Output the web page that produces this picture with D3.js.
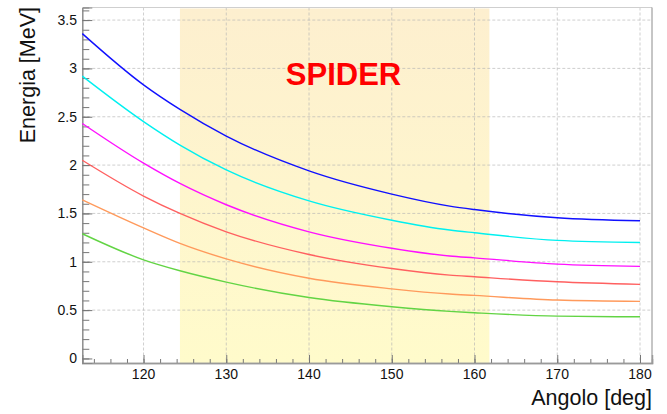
<!DOCTYPE html>
<html><head><meta charset="utf-8">
<script src="https://cdn.jsdelivr.net/npm/d3@7"></script>
<style>
html,body{margin:0;padding:0;background:#fff;}
svg{display:block;font-family:"Liberation Sans",Arial,Helvetica,sans-serif;}
</style></head>
<body>
<svg id="chart" width="667" height="414"></svg>
<script>
// ---- data ----
const angles  = [112.6, 120, 124.4, 130, 140, 150, 157, 160, 170, 180];
const serBlue    = [3.36, 2.83, 2.576, 2.30, 1.94, 1.70, 1.576, 1.54, 1.455, 1.424];
const serCyan    = [2.92, 2.45, 2.207, 1.95, 1.63, 1.43, 1.328, 1.30, 1.221, 1.20];
const serMagenta = [2.43, 2.02, 1.81, 1.59, 1.31, 1.14, 1.059, 1.04, 0.976, 0.952];
const serRed     = [2.05, 1.68, 1.50, 1.31, 1.075, 0.93, 0.862, 0.845, 0.793, 0.766];
const serOrange  = [1.64, 1.35, 1.19, 1.03, 0.83, 0.72, 0.666, 0.652, 0.604, 0.59];
const serGreen   = [1.29, 1.02, 0.907, 0.79, 0.63, 0.535, 0.487, 0.473, 0.438, 0.431];
const seriesColors = ["#1010ff", "#00f0f0", "#ff10ff", "#ff6060", "#ff9a5c", "#62d444"];
const xTicks = [120, 130, 140, 150, 160, 170, 180];
const yTicks = [0, 0.5, 1, 1.5, 2, 2.5, 3, 3.5];
const xDomain = [112.6, 181.45];
const yDomain = [-0.047, 3.63];
const bandRange = [124.4, 161.8];
const bandLabel = "SPIDER";
const xTitle = "Angolo [deg]";
const yTitle = "Energia [MeV]";

const series = [serBlue, serCyan, serMagenta, serRed, serOrange, serGreen];

// ---- layout ----
const L = 82.3, R = 652, T = 7.5, B = 363;
const svg = d3.select("#chart");
const x = d3.scaleLinear().domain(xDomain).range([L, R]);
const y = d3.scaleLinear().domain(yDomain).range([B, T]);

const defs = svg.append("defs");
const grad = defs.append("linearGradient").attr("id","bandGrad").attr("x1",0).attr("y1",0).attr("x2",0).attr("y2",1);
grad.append("stop").attr("offset","0%").attr("stop-color","#fdefcf");
grad.append("stop").attr("offset","100%").attr("stop-color","#fffbcb");

// shaded band
svg.append("rect")
  .attr("x", x(bandRange[0])).attr("width", x(bandRange[1]) - x(bandRange[0]))
  .attr("y", y(3.62)).attr("height", y(yDomain[0]) - y(3.62))
  .attr("fill", "url(#bandGrad)");

// grid
const grid = svg.append("g").attr("stroke", "#b4b4b4").attr("stroke-width", 0.8)
  .attr("stroke-dasharray", "3,2").attr("stroke-opacity", 0.8);
xTicks.forEach(t => grid.append("line").attr("x1", x(t)).attr("x2", x(t)).attr("y1", T).attr("y2", B));
yTicks.filter(t => t > 0).forEach(t => grid.append("line").attr("x1", L).attr("x2", R).attr("y1", y(t)).attr("y2", y(t)));

// frame
svg.append("line").attr("x1", L).attr("x2", R).attr("y1", T).attr("y2", T).attr("stroke", "#cfcfcf");
svg.append("line").attr("x1", R).attr("x2", R).attr("y1", T).attr("y2", B).attr("stroke", "#8c8c8c");

// x axis
const xAxis = d3.axisTop(x).tickValues(d3.range(114, 181, 2)).tickSize(4).tickFormat("");
const gx = svg.append("g").attr("transform", `translate(0,${B})`).call(xAxis);
const xAxisMajor = d3.axisTop(x).tickValues(xTicks).tickSize(8).tickFormat("");
const gx2 = svg.append("g").attr("transform", `translate(0,${B})`).call(xAxisMajor);
[gx, gx2].forEach(g => { g.selectAll("line").attr("stroke", "#777"); g.select(".domain").attr("stroke", "#9a9a9a").attr("stroke-width", 1.5); });
svg.append("g").selectAll("text").data(xTicks).join("text")
  .attr("x", d => x(d)).attr("y", 379).attr("text-anchor", "middle")
  .attr("font-size", 14).attr("fill", "#111").text(d => d);

// y axis
const yAxisMinor = d3.axisRight(y).tickValues(d3.range(0, 3.65, 0.1)).tickSize(7).tickFormat("");
const gy = svg.append("g").attr("transform", `translate(${L},0)`).call(yAxisMinor);
const yAxisMajor = d3.axisRight(y).tickValues(yTicks).tickSize(10).tickFormat("");
const gy2 = svg.append("g").attr("transform", `translate(${L},0)`).call(yAxisMajor);
[gy, gy2].forEach(g => { g.selectAll("line").attr("stroke", "#777"); g.select(".domain").attr("stroke", "#888"); });
svg.append("g").selectAll("text").data(yTicks).join("text")
  .attr("x", 77).attr("y", d => y(d) + 5).attr("text-anchor", "end")
  .attr("font-size", 14).attr("fill", "#111").text(d => d);

// curves
const line = d3.line().x((d, i) => x(angles[i])).y(d => y(d)).curve(d3.curveMonotoneX);
svg.append("g").selectAll("path").data(series).join("path")
  .attr("d", d => line(d)).attr("fill", "none")
  .attr("stroke", (d, i) => seriesColors[i]).attr("stroke-width", 1.4);

// band label
svg.append("text").attr("x", 343.5).attr("y", 85)
  .attr("text-anchor", "middle").attr("font-size", 31).attr("font-weight", "bold")
  .attr("fill", "#ff0000").text(bandLabel);

// axis titles
svg.append("text").attr("x", 652).attr("y", 405).attr("text-anchor", "end")
  .attr("font-size", 21.5).attr("fill", "#111").text(xTitle);
svg.append("text").attr("transform", "translate(35,7) rotate(-90)").attr("text-anchor", "end")
  .attr("font-size", 21.5).attr("fill", "#111").text(yTitle);
</script>
</body></html>
